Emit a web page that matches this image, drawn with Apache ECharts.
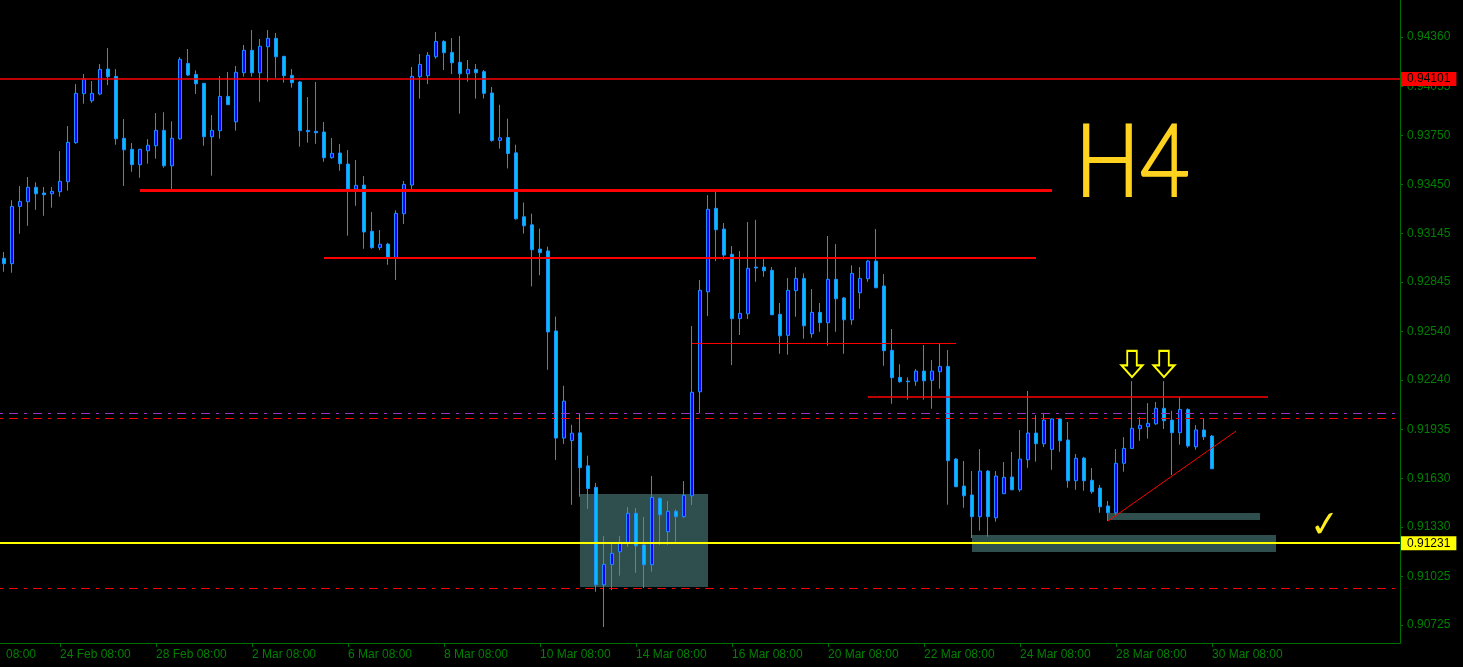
<!DOCTYPE html>
<html><head><meta charset="utf-8">
<script src="https://cdn.jsdelivr.net/npm/echarts@6/dist/echarts.min.js"></script>
<style>html,body{margin:0;padding:0;background:#000;overflow:hidden}#c{width:1463px;height:667px}</style>
</head><body><div id="c"></div>
<script>
// ---- data: H4 candles [open, close, low, high] ----
const candles = [
[0.92992,0.92959,0.92909,0.93031],[0.92959,0.93313,0.92903,0.93351],[0.93313,0.93344,0.93144,0.93439],[0.93342,0.93431,0.93193,0.93495],
[0.93431,0.93391,0.93292,0.93462],[0.93396,0.93385,0.93255,0.93433],[0.93391,0.93406,0.93305,0.93433],[0.93404,0.93468,0.93373,0.93655],
[0.93466,0.93709,0.93410,0.93810],[0.93707,0.94012,0.93700,0.94069],[0.94010,0.94100,0.93948,0.94131],[0.93966,0.94012,0.93954,0.94088],
[0.94008,0.94160,0.94001,0.94193],[0.94162,0.94115,0.94063,0.94292],[0.94117,0.93731,0.93694,0.94162],[0.93734,0.93663,0.93439,0.93853],
[0.93666,0.93571,0.93527,0.93705],[0.93571,0.93666,0.93490,0.93668],[0.93657,0.93691,0.93577,0.93729],[0.93688,0.93783,0.93608,0.93890],
[0.93783,0.93564,0.93552,0.93895],[0.93564,0.93734,0.93420,0.93839],[0.93731,0.94222,0.93725,0.94235],[0.94197,0.94125,0.94119,0.94286],
[0.94129,0.94071,0.94008,0.94154],[0.94074,0.93744,0.93688,0.94076],[0.93744,0.93783,0.93503,0.93878],[0.93781,0.93993,0.93731,0.94119],
[0.93993,0.93942,0.93940,0.94144],[0.93836,0.94142,0.93781,0.94181],[0.94139,0.94278,0.94115,0.94311],[0.94278,0.94139,0.94115,0.94403],
[0.94139,0.94303,0.93960,0.94348],[0.94300,0.94352,0.94084,0.94403],[0.94352,0.94238,0.94108,0.94385],[0.94241,0.94121,0.94078,0.94243],
[0.94123,0.94078,0.94047,0.94162],[0.94082,0.93781,0.93682,0.94088],[0.93783,0.93775,0.93707,0.93989],[0.93777,0.93768,0.93700,0.94082],
[0.93773,0.93614,0.93589,0.93835],[0.93614,0.93641,0.93608,0.93736],[0.93643,0.93577,0.93533,0.93699],[0.93575,0.93420,0.93132,0.93661],
[0.93420,0.93443,0.93317,0.93600],[0.93445,0.93155,0.93051,0.93501],[0.93159,0.93058,0.93051,0.93278],[0.93058,0.93079,0.93043,0.93167],
[0.93080,0.92996,0.92952,0.93088],[0.92996,0.93270,0.92858,0.93289],[0.93268,0.93449,0.93204,0.93470],[0.93445,0.94117,0.93420,0.94175],
[0.94115,0.94191,0.93979,0.94255],[0.94121,0.94247,0.94069,0.94267],[0.94238,0.94333,0.94226,0.94391],[0.94333,0.94263,0.94156,0.94341],
[0.94265,0.94201,0.94131,0.94354],[0.94204,0.94133,0.93886,0.94366],[0.94133,0.94160,0.94084,0.94218],[0.94160,0.94139,0.93979,0.94193],
[0.94146,0.94012,0.93980,0.94156],[0.94014,0.93721,0.93713,0.94051],[0.93721,0.93737,0.93670,0.93941],[0.93739,0.93640,0.93548,0.93855],
[0.93644,0.93236,0.93231,0.93694],[0.93249,0.93193,0.93145,0.93337],[0.93199,0.93045,0.92819,0.93268],[0.93049,0.93027,0.92888,0.93176],
[0.93038,0.92537,0.92303,0.93064],[0.92543,0.91881,0.91746,0.92632],[0.91881,0.92109,0.91845,0.92204],[0.91866,0.91911,0.91468,0.91963],
[0.91913,0.91698,0.91518,0.92034],[0.91709,0.91569,0.91443,0.91772],[0.91576,0.90974,0.90931,0.91603],[0.90974,0.91100,0.90713,0.91275],
[0.91100,0.91168,0.90941,0.91232],[0.91178,0.91236,0.91030,0.91275],[0.91236,0.91416,0.91209,0.91455],[0.91416,0.91215,0.91048,0.91448],
[0.91220,0.91098,0.90954,0.91393],[0.91098,0.91514,0.91055,0.91646],[0.91508,0.91407,0.91221,0.91514],[0.91302,0.91428,0.91221,0.91492],
[0.91428,0.91395,0.91228,0.91440],[0.91395,0.91527,0.91387,0.91615],[0.91524,0.92164,0.91467,0.92573],[0.92167,0.92794,0.92034,0.92858],
[0.92785,0.93295,0.92635,0.93383],[0.93301,0.93169,0.92975,0.93404],[0.93173,0.93012,0.92983,0.93210],[0.93017,0.92619,0.92332,0.93068],
[0.92619,0.92652,0.92518,0.93037],[0.92649,0.92930,0.92617,0.93216],[0.92938,0.92932,0.92847,0.93230],[0.92938,0.92915,0.92878,0.92992],
[0.92918,0.92643,0.92641,0.92938],[0.92646,0.92513,0.92402,0.92716],[0.92516,0.92794,0.92396,0.92870],[0.92792,0.92868,0.92631,0.92938],
[0.92868,0.92575,0.92495,0.92899],[0.92526,0.92658,0.92501,0.92802],[0.92658,0.92594,0.92538,0.92716],[0.92594,0.92862,0.92452,0.93130],
[0.92862,0.92742,0.92538,0.93080],[0.92747,0.92612,0.92402,0.92753],[0.92612,0.92899,0.92581,0.92949],[0.92779,0.92868,0.92680,0.92938],
[0.92866,0.92975,0.92847,0.92981],[0.92975,0.92810,0.92808,0.93173],[0.92821,0.92421,0.92328,0.92895],[0.92423,0.92254,0.92093,0.92555],
[0.92256,0.92229,0.92223,0.92337],[0.92233,0.92229,0.92118,0.92256],[0.92232,0.92295,0.92204,0.92308],[0.92295,0.92235,0.92118,0.92456],
[0.92238,0.92295,0.92062,0.92363],[0.92291,0.92324,0.92186,0.92462],[0.92324,0.91741,0.91469,0.92425],[0.91751,0.91580,0.91578,0.91757],
[0.91584,0.91524,0.91450,0.91739],[0.91529,0.91395,0.91263,0.91677],[0.91395,0.91677,0.91308,0.91813],[0.91677,0.91395,0.91271,0.91683],
[0.91388,0.91646,0.91364,0.91677],[0.91537,0.91638,0.91535,0.91733],[0.91640,0.91561,0.91559,0.91795],[0.91561,0.91751,0.91549,0.91931],
[0.91747,0.91912,0.91697,0.92172],[0.91912,0.91846,0.91735,0.92023],[0.91846,0.91992,0.91825,0.92034],[0.91811,0.91999,0.91685,0.92003],
[0.91999,0.91864,0.91796,0.92003],[0.91869,0.91617,0.91574,0.91980],[0.91617,0.91756,0.91561,0.91782],[0.91757,0.91617,0.91555,0.91765],
[0.91620,0.91549,0.91537,0.91696],[0.91572,0.91456,0.91419,0.91591],[0.91461,0.91419,0.91368,0.91492],[0.91419,0.91725,0.91407,0.91813],
[0.91725,0.91817,0.91673,0.91887],[0.91817,0.91941,0.91815,0.92233],[0.91939,0.91960,0.91864,0.92011],[0.91951,0.91972,0.91877,0.92097],
[0.91969,0.92065,0.91963,0.92104],[0.92065,0.91988,0.91937,0.92233],[0.91992,0.91914,0.91652,0.92050],[0.91914,0.92058,0.91840,0.92135],
[0.92058,0.91832,0.91821,0.92065],[0.91827,0.91931,0.91809,0.91961],[0.91931,0.91889,0.91869,0.92003],[0.91893,0.91691,0.91690,0.91900]
];
const slotCount = 175;               // bars visible incl. empty space on the right
const xTickLabels = ['24 Feb 08:00','28 Feb 08:00','2 Mar 08:00','6 Mar 08:00','8 Mar 08:00','10 Mar 08:00','14 Mar 08:00','16 Mar 08:00','20 Mar 08:00','22 Mar 08:00','24 Mar 08:00','28 Mar 08:00','30 Mar 08:00'];
const firstTickIndex = 7, tickEvery = 12;
const yTickLabels = ['0.94360','0.94055','0.93750','0.93450','0.93145','0.92845','0.92540','0.92240','0.91935','0.91630','0.91330','0.91025','0.90725'];
const yMin = 0.90614, yMax = 0.94589;
const resistancePrice = 0.94101;
const supportPrice = 0.91231;
const bidPrice = 0.91691;
const purpleDashDot = [0.92032];
const redDashDot = [0.92002, 0.90954];
// horizontal segments: [fromIndex, toIndex, price]
const redSegments = [[17,131,0.93414],[40,129,0.92994],[86,119,0.92468],[108,158,0.92135]];
const trendLine = [[138.1,0.91368],[154,0.91924]];
// zones: [fromIndex, topPrice, toIndex, bottomPrice]
const zones = [[72,0.91535,88,0.90960],[121,0.91281,159,0.91176],[138,0.91417,157,0.91374]];
const arrowMarks = [[141,0.92339],[145,0.92339]];

const categories = Array.from({length: slotCount}, (_, i) => String(i));
const yTickValues = yTickLabels.map(Number);
const isTick = (i) => i >= firstTickIndex && (i - firstTickIndex) % tickEvery === 0 && (i - firstTickIndex) / tickEvery < xTickLabels.length;

const GREEN = '#008000', AXIS = '#007000';
const segWidths = [3, 2, 1, 1.5];
const FONT = '"Liberation Sans", Arial, sans-serif';

const boxLabel = (txt, bg) => ({show:true, position:'end', distance:1, formatter: txt, color:'#000', backgroundColor:bg,
  padding:[1,6,1,6], fontSize:12, lineHeight:12, fontFamily:FONT});

const markLines = [];
markLines.push({yAxis: resistancePrice, lineStyle:{color:'#ff0000', width:1.6, type:'solid'}, label: boxLabel(resistancePrice.toFixed(5), '#ff0000')});
purpleDashDot.forEach(p => markLines.push({yAxis:p, lineStyle:{color:'#9932cc', width:1, type:[3,6,9,6]}}));
redDashDot.forEach(p => markLines.push({yAxis:p, lineStyle:{color:'#ff0000', width:1, type:[3,6,9,6]}}));
markLines.push({yAxis: supportPrice, lineStyle:{color:'#ffff00', width:2, type:'solid'}, label: boxLabel(supportPrice.toFixed(5), '#ffff00')});
markLines.push({yAxis: bidPrice, lineStyle:{opacity:0}, label: boxLabel(bidPrice.toFixed(5), '#0a640a')});
redSegments.forEach((s, i) => markLines.push([
  {coord:[s[0], s[2]], lineStyle:{color:'#ff0000', width:segWidths[i], type:'solid'}},
  {coord:[s[1], s[2]]}
]));
markLines.push([{coord: trendLine[0], lineStyle:{color:'#ff0000', width:1, type:'solid'}}, {coord: trendLine[1]}]);

const chart = echarts.init(document.getElementById('c'), null, {renderer:'canvas', width:1463, height:667});
chart.setOption({
  backgroundColor:'#000',
  animation:false,
  grid:{left:0, right:63, top:0, bottom:24},
  xAxis:{type:'category', data:categories, boundaryGap:true,
    axisLine:{show:true, lineStyle:{color:AXIS, width:1}},
    axisTick:{show:true, alignWithLabel:true, length:4, interval:(i)=>isTick(i), lineStyle:{color:AXIS}},
    axisLabel:{interval:(i)=>isTick(i), formatter:(v,i)=>xTickLabels[(i-firstTickIndex)/tickEvery] || '',
      align:'left', color:GREEN, fontSize:12, fontFamily:FONT, margin:6},
    splitLine:{show:false}},
  yAxis:{type:'value', position:'right', min:yMin, max:yMax,
    axisLine:{show:true, lineStyle:{color:AXIS, width:1}},
    axisTick:{show:true, length:3, customValues:yTickValues, lineStyle:{color:AXIS}},
    axisLabel:{customValues:yTickValues, formatter:(v)=>v.toFixed(5), color:GREEN, fontSize:12, fontFamily:FONT, margin:7},
    splitLine:{show:false}},
  series:[{
    type:'candlestick', data:candles, barWidth:4, z:2,
    itemStyle:{color:'#0000ff', color0:'#00bfff', borderColor:'#1e90ff', borderColor0:'#1e90ff', borderWidth:1},
    markArea:{silent:true, z:1, itemStyle:{color:'#2f4f4f', opacity:1},
      data: zones.map(z => [{coord:[z[0], z[1]]}, {coord:[z[2], z[3]]}])},
    markLine:{silent:true, precision:6, symbol:['none','none'], z:5, label:{show:false}, data: markLines},
    markPoint:{silent:true, z:6,
      symbol:'path://M6,0L16,0L16,15L22,15L11,27L0,15L6,15Z', symbolSize:[21,26],
      itemStyle:{color:'rgba(0,0,0,0)', borderColor:'#ffff00', borderWidth:2},
      label:{show:false},
      data: arrowMarks.map(a => ({coord:a}))}
  }],
  graphic:[
    {type:'text', x:6, y:655, style:{text:'08:00', fill:GREEN, font:'12px ' + FONT, textVerticalAlign:'middle'}},
    {type:'text', x:1075, y:114, scaleX:0.86, style:{text:'H4', fill:'#ffd21f', stroke:'#ffd21f', lineWidth:2,
      font:'300 100px Lato, "Liberation Sans", sans-serif', textVerticalAlign:'top'}},
    {type:'text', x:1325, y:527, rotation:0.1, style:{text:'✓', fill:'#ffee22', font:'36px "DejaVu Sans"', textAlign:'center', textVerticalAlign:'middle'}}
  ]
});
</script>
</body></html>
